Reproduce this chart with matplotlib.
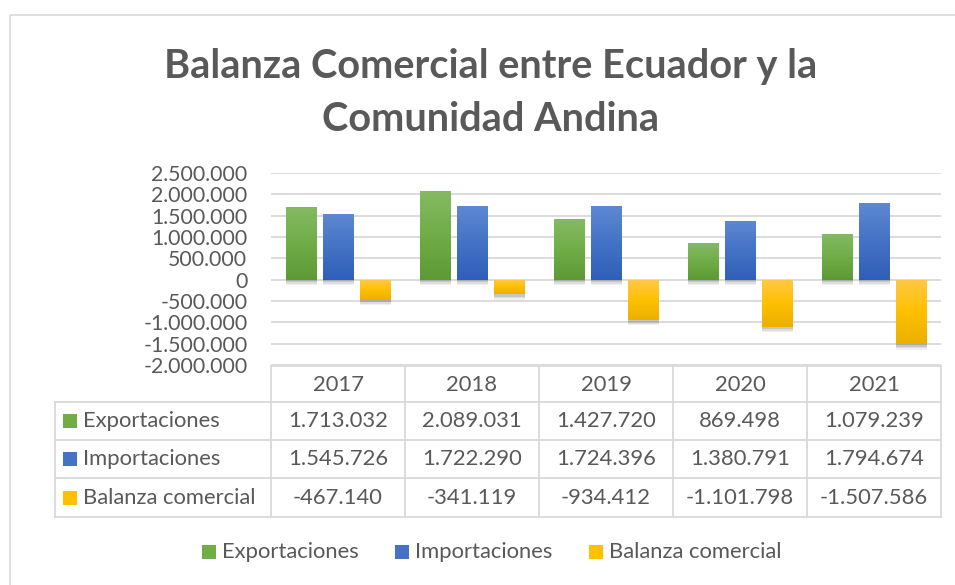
import numpy as np
import matplotlib.pyplot as plt
import matplotlib.patheffects as pe
from matplotlib.patches import Rectangle
from matplotlib.colors import LinearSegmentedColormap

plt.rcParams['font.family'] = ['Lato', 'DejaVu Sans']

# data
years = ['2017', '2018', '2019', '2020', '2021']
series = ['Exportaciones', 'Importaciones', 'Balanza comercial']
exportaciones = [1713032, 2089031, 1427720, 869498, 1079239]
importaciones = [1545726, 1722290, 1724396, 1380791, 1794674]
balanza = [-467140, -341119, -934412, -1101798, -1507586]
values = [exportaciones, importaciones, balanza]
yticks = [-2000000, -1500000, -1000000, -500000, 0, 500000, 1000000, 1500000, 2000000, 2500000]

colors = ['#70AD47', '#4472C4', '#FFC000']
grads = [('#85ba63', '#5d9a35'), ('#5d88d2', '#2f5fb8'), ('#ffc844', '#ebb000')]
text_c = '#595959'
line_c = '#d9d9d9'

W, H = 955, 585


def fmt(v):
    return f"{v:,}".replace(",", ".")


fig = plt.figure(figsize=(W / 100, H / 100), dpi=100)

# overlay in pixel coordinates for frame, table and legend
ov = fig.add_axes([0, 0, 1, 1])
ov.set_xlim(0, W)
ov.set_ylim(H, 0)
ov.axis('off')

ov.add_patch(Rectangle((10, 15), 980, 600, fill=False, ec=line_c, lw=1.2))

ov.text(491, 78, 'Balanza Comercial entre Ecuador y la', ha='center', va='baseline',
        fontsize=28.6, fontweight='bold', color=text_c)
ov.text(491, 131, 'Comunidad Andina', ha='center', va='baseline',
        fontsize=28.6, fontweight='bold', color=text_c)

# bar chart
ax = fig.add_axes([271 / W, 1 - 365 / H, (941 - 271) / W, (365 - 173) / H])
ax.set_zorder(2)
ax.patch.set_visible(False)
ax.set_xlim(-0.5, len(years) - 0.5)
ax.set_ylim(-2000000, 2500000)
ax.set_yticks(yticks)
ax.set_yticklabels([fmt(v) for v in yticks], fontsize=15.3, color=text_c)
ax.tick_params(axis='y', length=0, pad=17)
ax.set_xticks([])
for s in ax.spines.values():
    s.set_visible(False)
ax.yaxis.grid(True, color=line_c, lw=1.3)
ax.set_axisbelow(True)

# soft shadow: a few offset layers
shadow = [pe.SimplePatchShadow(offset=(0.5, -o), shadow_rgbFace='#000000', alpha=a)
          for o, a in [(4, 0.06), (3, 0.08), (2, 0.1)]]

x = np.arange(len(years))
width = 0.231
step = 0.276
for i, vals in enumerate(values):
    bars = ax.bar(x + (i - 1) * step, vals, width, color=colors[i], zorder=3,
                  path_effects=shadow + [pe.Normal()])
    cmap = LinearSegmentedColormap.from_list('g%d' % i, [grads[i][1], colors[i], grads[i][0]])
    for b in bars:
        x0, y0 = b.get_x(), b.get_y()
        x1, y1 = x0 + b.get_width(), y0 + b.get_height()
        lo, hi = min(y0, y1), max(y0, y1)
        grad = np.linspace(0, 1, 64).reshape(-1, 1)
        im = ax.imshow(grad, extent=(x0, x1, lo, hi), origin='lower', cmap=cmap,
                       aspect='auto', zorder=4, interpolation='bilinear')
        im.set_clip_path(b)
ax.set_xlim(-0.5, len(years) - 0.5)
ax.set_ylim(-2000000, 2500000)

# data table
col_edges = [271 + k * 134 for k in range(len(years) + 1)]
row_edges = [366, 402, 440, 478, 517]
lab_left = 55
lw = 1.3
fs = 15.8
ov.plot([col_edges[0], col_edges[-1]], [row_edges[0], row_edges[0]], color=line_c, lw=lw)
for r in row_edges[1:]:
    ov.plot([lab_left, col_edges[-1]], [r, r], color=line_c, lw=lw)
for c in col_edges:
    ov.plot([c, c], [row_edges[0], row_edges[-1]], color=line_c, lw=lw)
ov.plot([lab_left, lab_left], [row_edges[1], row_edges[-1]], color=line_c, lw=lw)

for j, yr in enumerate(years):
    cx = (col_edges[j] + col_edges[j + 1]) / 2
    ov.text(cx, (row_edges[0] + row_edges[1]) / 2 + 1, yr, ha='center', va='center',
            fontsize=fs, color=text_c)
for i, name in enumerate(series):
    cy = (row_edges[i + 1] + row_edges[i + 2]) / 2
    ov.add_patch(Rectangle((63, cy - 7), 14, 14, color=colors[i], lw=0))
    ov.text(83, cy, name, ha='left', va='center', fontsize=fs, color=text_c)
    for j in range(len(years)):
        cx = (col_edges[j] + col_edges[j + 1]) / 2
        ov.text(cx, cy, fmt(values[i][j]), ha='center', va='center', fontsize=fs, color=text_c)

# legend
leg_x = [202, 395, 589]
for i, name in enumerate(series):
    ov.add_patch(Rectangle((leg_x[i], 545), 14, 14, color=colors[i], lw=0))
    ov.text(leg_x[i] + 20, 552, name, ha='left', va='center', fontsize=fs, color=text_c)

fig.savefig('out.png', dpi=100)
